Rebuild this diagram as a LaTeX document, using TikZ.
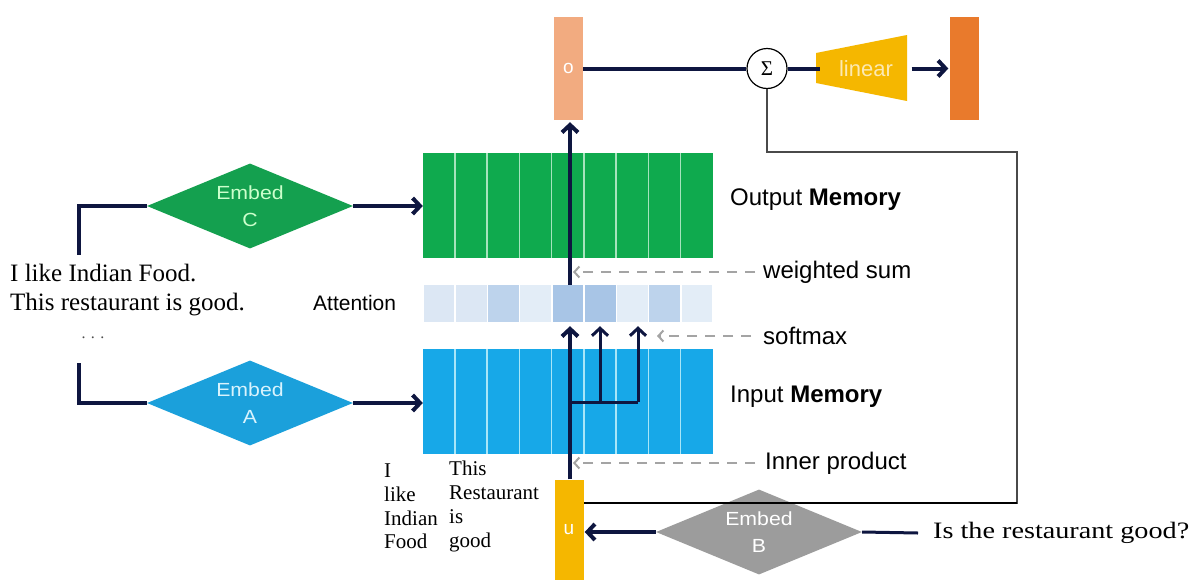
\documentclass[tikz,border=0pt]{standalone}
\usepackage{fontspec}
\setmainfont{Liberation Serif}
\setsansfont{Liberation Sans}
\newfontfamily\wideserif[FakeStretch=1.2]{Liberation Serif}
\newfontfamily\widesans[FakeStretch=1.12]{Liberation Sans}
\usetikzlibrary{arrows.meta,shapes.geometric,calc}

\definecolor{navy}{HTML}{0E1640}
\definecolor{obox}{HTML}{F2AB80}
\definecolor{outbox}{HTML}{E97A2C}
\definecolor{gold}{HTML}{F5B700}
\definecolor{memgreen}{HTML}{0FAA4E}
\definecolor{embgreen}{HTML}{14A04F}
\definecolor{sepgreen}{HTML}{A6E3BD}
\definecolor{memblue}{HTML}{17A8E8}
\definecolor{embblue}{HTML}{1BA0DB}
\definecolor{sepblue}{HTML}{A8E6F8}
\definecolor{embgray}{HTML}{9C9C9C}
\definecolor{dashgray}{HTML}{A4A4A4}
\definecolor{fbgray}{HTML}{4A4A4A}
\definecolor{a1}{HTML}{DCE7F4}
\definecolor{a2}{HTML}{BDD3EC}
\definecolor{a3}{HTML}{A8C5E6}
\definecolor{a4}{HTML}{E3EDF7}

\tikzset{
  vec/.style={minimum width=29pt, minimum height=103pt, inner sep=0,
    font=\sffamily\fontsize{19}{19}\selectfont, text=white},
  embed/.style={diamond, shape aspect=2.42, minimum width=206pt,
    minimum height=85pt, inner sep=0, align=center,
    font=\widesans\fontsize{19}{27}\selectfont},
  memory/.style={minimum width=290pt, minimum height=105pt, inner sep=0},
  attcell/.style={minimum width=30.7pt, minimum height=37pt, inner sep=0},
  flow/.style={line width=4pt, navy},
  branch/.style={line width=3pt, navy},
  tip/.style={-{Straight Barb[length=7.5pt,width=16pt]}},
  hint/.style={dashgray, line width=2pt, dash pattern=on 10pt off 8pt,
    -{Straight Barb[length=5pt,width=11pt]}},
  lbl/.style={anchor=west, inner sep=0, font=\sffamily\fontsize{24}{24}\selectfont},
  serifnote/.style={anchor=west, inner sep=0, align=left},
}

\begin{document}
\begin{tikzpicture}[x=1pt,y=-1pt]
\useasboundingbox[fill=white] (0,0) rectangle (1198,581);

% ---- output side: o, sum, linear, prediction ----
\node (o)   [vec, fill=obox]   at (568.5,68.5) {o};
\node (sig) [circle, draw, line width=1.2pt, fill=white, minimum size=40pt,
             inner sep=0, font=\fontsize{21}{21}\selectfont] at (767,68.5) {Σ};
\fill[gold] (816,53) -- (907,35) -- (907,101) -- (816,83) -- cycle;
\node (lin) [minimum width=91pt, minimum height=66pt, inner sep=0,
             text=gold!30!white, font=\sffamily\fontsize{22}{22}\selectfont]
  at (866,68.5) {linear};
\node (out) [vec, fill=outbox] at (964,68.5) {};

% ---- memories ----
\node (om) [memory, fill=memgreen] at (568,205.5) {};
\node (im) [memory, fill=memblue]  at (568,401.5) {};
\foreach \k in {1,...,8}{
  \draw[sepgreen, line width=1.5pt] ($(om.north west)+(\k*32.22,0)$) -- ($(om.south west)+(\k*32.22,0)$);
  \draw[sepblue,  line width=1.5pt] ($(im.north west)+(\k*32.22,0)$) -- ($(im.south west)+(\k*32.22,0)$);
}
\foreach \c [count=\i] in {a1,a1,a2,a4,a3,a3,a4,a2,a4}
  \node (att\i) [attcell, fill=\c] at ({423+16.11+(\i-1)*32.22},303.5) {};

% ---- embeddings ----
\node (C) [embed, fill=embgreen, text=green!20!white] at (250,206) {Embed\\C};
\node (A) [embed, fill=embblue,  text=cyan!15!white]  at (250,403) {Embed\\A};
\node (B) [embed, fill=embgray,  text=white]          at (759,532) {Embed\\B};
\node (u) [vec, fill=gold, minimum height=100pt] at (569,529.5) {u};

% ---- texts ----
\node (sent) [serifnote, font=\fontsize{25}{29}\selectfont] at (10,290.5)
  {I like Indian Food.\\This restaurant is good.};
\node (dots) [inner sep=0, font=\fontsize{16}{16}\selectfont, text=black!70] at (93,338) {. . .};
\node (att)  [lbl, font=\sffamily\fontsize{21}{21}\selectfont] at (313,303) {Attention};
\node (colA) [serifnote, font=\fontsize{21}{23.7}\selectfont] at (384,506.5) {I\\like\\Indian\\Food};
\node (colB) [serifnote, font=\fontsize{21}{23.7}\selectfont] at (449,506.5) {This\\Restaurant\\is\\good};
\node (q) [anchor=west, inner sep=0, font=\wideserif\fontsize{23.5}{23.5}\selectfont]
  at (933,533) {Is the restaurant good?};

\node (omL) [lbl] at (730,200) {Output \textbf{Memory}};
\node (ws)  [lbl] at (763,272) {weighted sum};
\node (sm)  [lbl] at (763,336) {softmax};
\node (imL) [lbl] at (730,397) {Input \textbf{Memory}};
\node (ip)  [lbl] at (765,463) {Inner product};

% ---- connectors ----
\coordinate (lc) at (79,255);
\coordinate (la) at (79,363);
\draw[flow] (C.west) -| (lc);
\draw[flow] (la) |- (A.west);
\draw[flow, tip] (C.east) -- (C.east -| om.west);
\draw[flow, tip] (A.east) -- (A.east -| im.west);

\draw[flow] (o.east) -- (sig.west);
\draw[flow] (sig.east) -- (lin.west);
\draw[flow, tip, shorten >=1pt] (lin.east) -- (out.west);

% query path through the memories
\coordinate (axis) at (570,0);
\coordinate (br) at (570,402);
\coordinate (j1) at (600,402);
\coordinate (j2) at (638,402);
\draw[flow, tip, shorten >=4pt] (u.north -| axis) -- (att5.south -| axis);
\draw[flow, tip, shorten >=2pt] (att5.north -| axis) -- (o.south -| axis);
\draw[branch] (br) -- (j2);
\draw[branch, tip, shorten >=4pt] (j1) -- (j1 |- att6.south);
\draw[branch, tip, shorten >=4pt] (j2) -- (j2 |- att7.south);

% dashed hints
\coordinate (hx) at (573,0);
\coordinate (sx) at (657,0);
\draw[hint, shorten <=8pt]  (ws.west) -- (ws.west -| hx);
\draw[hint, shorten <=12pt] (sm.west) -- (sm.west -| sx);
\draw[hint, shorten <=10pt] (ip.west) -- (ip.west -| hx);

% question embedding
\draw[line width=3pt, navy] (B.east) -- ($(q.west)+(-15,0)$);
\draw[flow, tip, shorten >=1pt] (B.west) -- (B.west -| u.east);

% feedback of the sum into u
\coordinate (rt) at (1017,152);
\coordinate (rb) at (1017,503);
\draw[fbgray, line width=2pt] (sig.south) -- (sig.south |- rt) -- (rt) -- (rb) -- (rb -| u.east);
\draw[black, line width=2.6pt] (rb) -- (rb -| u.east);
\end{tikzpicture}
\end{document}
